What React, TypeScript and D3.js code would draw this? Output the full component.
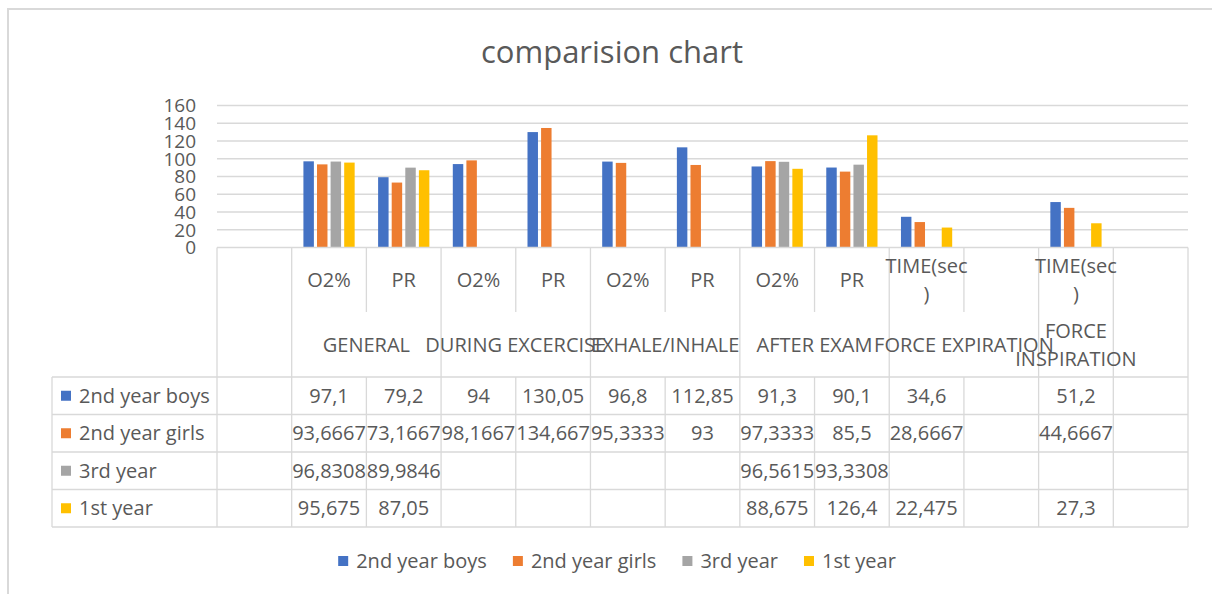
import React, { useEffect, useRef } from "react";
import * as d3 from "d3";

const title = "comparision chart";
const subCategories = ["", "O2%", "PR", "O2%", "PR", "O2%", "PR", "O2%", "PR", "TIME(sec)", "", "TIME(sec)", ""];
const groupLabels = ["", "GENERAL", "DURING EXCERCISE", "EXHALE/INHALE", "AFTER EXAM", "FORCE EXPIRATION", "FORCE INSPIRATION", ""];
const groupSpans = [1, 2, 2, 2, 2, 2, 1, 1];
const seriesNames = ["2nd year boys", "2nd year girls", "3rd year", "1st year"];
const seriesColors = ["#4472C4", "#ED7D31", "#A5A5A5", "#FFC000"];
const boys = [null, 97.1, 79.2, 94, 130.05, 96.8, 112.85, 91.3, 90.1, 34.6, null, 51.2, null];
const girls = [null, 93.6667, 73.1667, 98.1667, 134.6667, 95.3333, 93, 97.3333, 85.5, 28.6667, null, 44.6667, null];
const third = [null, 96.8308, 89.9846, null, null, null, null, 96.5615, 93.3308, null, null, null, null];
const first = [null, 95.675, 87.05, null, null, null, null, 88.675, 126.4, 22.475, null, 27.3, null];
const yTicks = [0, 20, 40, 60, 80, 100, 120, 140, 160];

const seriesValues: (number | null)[][] = [boys, girls, third, first];

// explicit line breaks as Excel renders them
const wrapLines: Record<string, string[]> = {
  "TIME(sec)": ["TIME(sec", ")"],
  "FORCE INSPIRATION": ["FORCE", "INSPIRATION"],
};

const TEXT = "#595959";
const GRID = "#d9d9d9";
const FONT = "'Open Sans', sans-serif";

function fmt(v: number | null): string {
  if (v == null) return "";
  for (let d = 4; d >= 0; d--) {
    const s = String(+v.toFixed(d));
    if (s.length <= 7) return s.replace(".", ",");
  }
  return String(Math.round(v));
}

export default function App() {
  const ref = useRef<SVGSVGElement | null>(null);

  useEffect(() => {
    const svg = d3.select(ref.current);
    svg.selectAll("*").remove();

    const W = 1212, H = 594;
    const plotL = 217, plotR = 1188, plotT = 105.5, plotB = 247.5;
    const subB = 312, headB = 377, rowH = 37.5, tableL = 52;
    const nRows = seriesNames.length;
    const tableB = headB + nRows * rowH;
    const FS = 20;

    // chart border
    svg.append("rect").attr("x", 8).attr("y", 9).attr("width", W).attr("height", H)
      .attr("fill", "#fff").attr("stroke", GRID).attr("stroke-width", 2);

    svg.append("text").attr("x", 612).attr("y", 63).attr("text-anchor", "middle")
      .attr("font-family", FONT).attr("font-size", 31).attr("fill", TEXT).text(title);

    const x = d3.scaleBand<number>().domain(d3.range(subCategories.length)).range([plotL, plotR]).padding(0);
    const catW = x.bandwidth();
    const inner = d3.scaleBand<number>().domain(d3.range(seriesNames.length))
      .range([catW * 0.157, catW * 0.843]).paddingInner(0.23);
    const y = d3.scaleLinear().domain([0, 160]).range([plotB, plotT]);

    // gridlines
    svg.append("g").selectAll("line").data(yTicks.filter((t) => t > 0)).join("line")
      .attr("x1", plotL).attr("x2", plotR).attr("y1", (d) => y(d)).attr("y2", (d) => y(d))
      .attr("stroke", GRID).attr("stroke-width", 1.3);

    // y labels
    svg.append("g").selectAll("text").data(yTicks).join("text")
      .attr("x", 196).attr("y", (d) => y(d)).attr("dy", "0.36em").attr("text-anchor", "end")
      .attr("font-family", FONT).attr("font-size", 19).attr("fill", TEXT).text((d) => d);

    // bars
    seriesValues.forEach((vals, si) => {
      svg.append("g").selectAll("rect").data(vals.map((v, i) => ({ v, i })).filter((d) => d.v != null)).join("rect")
        .attr("x", (d) => (x(d.i) as number) + (inner(si) as number))
        .attr("width", inner.bandwidth())
        .attr("y", (d) => y(d.v as number))
        .attr("height", (d) => y(0) - y(d.v as number))
        .attr("fill", seriesColors[si]);
    });

    // table grid
    const g = svg.append("g").attr("stroke", GRID).attr("stroke-width", 1.3);
    g.append("line").attr("x1", plotL).attr("x2", plotR).attr("y1", plotB).attr("y2", plotB);
    for (let r = 0; r <= nRows; r++) {
      const yy = headB + r * rowH;
      g.append("line").attr("x1", tableL).attr("x2", plotR).attr("y1", yy).attr("y2", yy);
    }
    g.append("line").attr("x1", tableL).attr("x2", tableL).attr("y1", headB).attr("y2", tableB);
    g.append("line").attr("x1", plotL).attr("x2", plotL).attr("y1", plotB).attr("y2", tableB);
    const groupEnds = new Set<number>();
    let acc = 0;
    groupSpans.forEach((s) => { acc += s; groupEnds.add(acc); });
    for (let i = 1; i <= subCategories.length; i++) {
      const xx = plotL + i * catW;
      if (groupEnds.has(i)) {
        g.append("line").attr("x1", xx).attr("x2", xx).attr("y1", plotB).attr("y2", tableB);
      } else {
        g.append("line").attr("x1", xx).attr("x2", xx).attr("y1", plotB).attr("y2", subB);
        g.append("line").attr("x1", xx).attr("x2", xx).attr("y1", headB).attr("y2", tableB);
      }
    }

    const lineH = 28;
    const drawLabel = (cx: number, cy: number, label: string) => {
      const lines = wrapLines[label] || [label];
      const t = svg.append("text").attr("text-anchor", "middle").attr("font-family", FONT)
        .attr("font-size", FS).attr("fill", TEXT);
      lines.forEach((ln, k) => {
        t.append("tspan").attr("x", cx).attr("y", cy + (k - (lines.length - 1) / 2) * lineH).attr("dy", "0.36em").text(ln);
      });
    };

    subCategories.forEach((c, i) => {
      if (c) drawLabel((x(i) as number) + catW / 2, (plotB + subB) / 2, c);
    });
    let start = 0;
    groupLabels.forEach((gl, gi) => {
      const span = groupSpans[gi];
      if (gl) drawLabel(plotL + (start + span / 2) * catW, (subB + headB) / 2, gl);
      start += span;
    });

    // data rows
    seriesNames.forEach((name, si) => {
      const cy = headB + si * rowH + rowH / 2;
      svg.append("rect").attr("x", 61).attr("y", cy - 5).attr("width", 10).attr("height", 10).attr("fill", seriesColors[si]);
      svg.append("text").attr("x", 79).attr("y", cy).attr("dy", "0.36em").attr("font-family", FONT)
        .attr("font-size", FS).attr("fill", TEXT).text(name);
      seriesValues[si].forEach((v, i) => {
        if (v == null) return;
        svg.append("text").attr("x", (x(i) as number) + catW / 2).attr("y", cy).attr("dy", "0.36em")
          .attr("text-anchor", "middle").attr("font-family", FONT).attr("font-size", FS).attr("fill", TEXT).text(fmt(v));
      });
    });

    // legend
    const lg = svg.append("g");
    let lx = 0;
    seriesNames.forEach((name, si) => {
      const t = lg.append("text").attr("x", lx + 18).attr("y", 561).attr("dy", "0.36em").attr("font-family", FONT)
        .attr("font-size", FS).attr("fill", TEXT).text(name);
      const tw = (t.node() as SVGTextElement).getComputedTextLength();
      lg.append("rect").attr("x", lx).attr("y", 556).attr("width", 10).attr("height", 10).attr("fill", seriesColors[si]);
      lx += 18 + tw + 26;
    });
    const totalW = lx - 26;
    lg.attr("transform", `translate(${617 - totalW / 2},0)`);
  }, []);

  return (
    <svg ref={ref} width={1212} height={594}
      style={{ position: "absolute", left: 0, top: 0, display: "block" }} />
  );
}
